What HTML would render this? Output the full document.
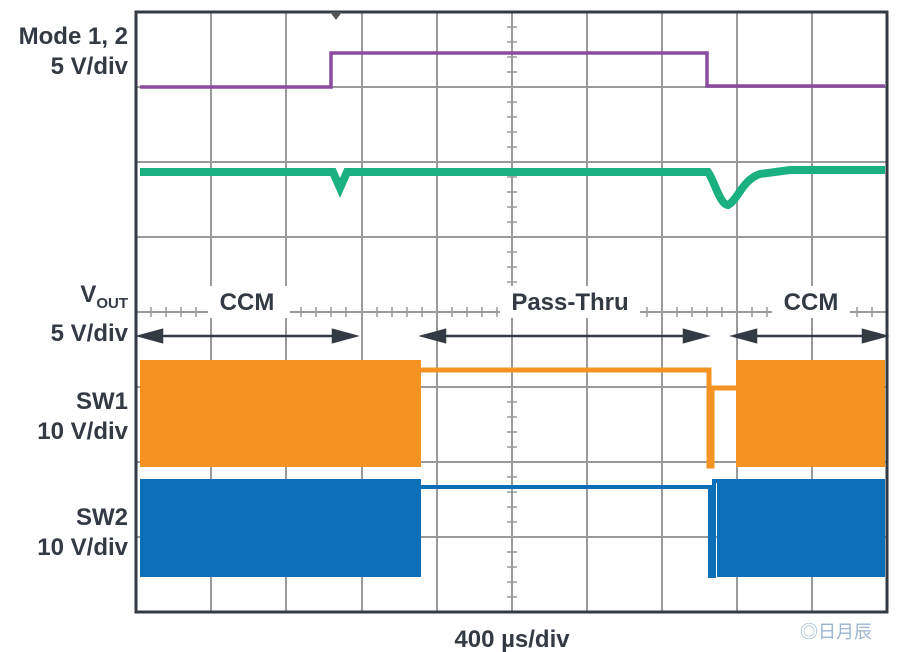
<!DOCTYPE html>
<html><head><style>
body{margin:0;background:#fff;width:901px;height:652px;overflow:hidden}
.l{position:absolute;font-family:"Liberation Sans",sans-serif;font-weight:bold;font-size:24px;color:#333a44;text-align:right;right:773px;line-height:30px}
</style></head><body>
<div style="position:relative;width:901px;height:652px">
<svg width="901" height="652" style="position:absolute;left:0;top:0">
<g stroke="#9a9a9a" stroke-width="2">
<line x1="211" y1="12" x2="211" y2="612"/><line x1="286" y1="12" x2="286" y2="612"/><line x1="362" y1="12" x2="362" y2="612"/><line x1="437" y1="12" x2="437" y2="612"/><line x1="512" y1="12" x2="512" y2="612"/><line x1="587" y1="12" x2="587" y2="612"/><line x1="662" y1="12" x2="662" y2="612"/><line x1="737" y1="12" x2="737" y2="612"/><line x1="812" y1="12" x2="812" y2="612"/>
<line x1="136" y1="87" x2="887" y2="87"/><line x1="136" y1="162" x2="887" y2="162"/><line x1="136" y1="237" x2="887" y2="237"/><line x1="136" y1="312" x2="887" y2="312"/><line x1="136" y1="387" x2="887" y2="387"/><line x1="136" y1="462" x2="887" y2="462"/><line x1="136" y1="537" x2="887" y2="537"/>
</g>
<g stroke="#9a9a9a" stroke-width="1.5">
<path d="M151 307v10M166 307v10M181 307v10M196 307v10M226 307v10M241 307v10M256 307v10M271 307v10M301 307v10M316 307v10M331 307v10M346 307v10M377 307v10M392 307v10M407 307v10M422 307v10M452 307v10M467 307v10M482 307v10M497 307v10M527 307v10M542 307v10M557 307v10M572 307v10M602 307v10M617 307v10M632 307v10M647 307v10M677 307v10M692 307v10M707 307v10M722 307v10M752 307v10M767 307v10M782 307v10M797 307v10M827 307v10M842 307v10M857 307v10M872 307v10"/>
<path d="M507 27h10M507 42h10M507 57h10M507 72h10M507 102h10M507 117h10M507 132h10M507 147h10M507 177h10M507 192h10M507 207h10M507 222h10M507 252h10M507 267h10M507 282h10M507 297h10M507 402h10M507 417h10M507 432h10M507 447h10M507 477h10M507 492h10M507 507h10M507 522h10M507 552h10M507 567h10M507 582h10M507 597h10"/>
</g>
<rect x="208" y="286" width="82" height="32" fill="#fff"/>
<rect x="500" y="286" width="140" height="32" fill="#fff"/>
<rect x="772" y="286" width="78" height="32" fill="#fff"/>
<rect x="136" y="12" width="751" height="600" fill="none" stroke="#333a44" stroke-width="3"/>
<path d="M330 12l6 8 6-8z" fill="#555"/>
<path d="M140 87H331V53H707V86H885" fill="none" stroke="#8b4b9f" stroke-width="3.5"/>
<path d="M140 172H333L340 188L347 172H708C714 180 720 205 728 205C738 200 742 180 760 174L790 170H885" fill="none" stroke="#1bb07f" stroke-width="8"/>
<rect x="140" y="360" width="281" height="107" fill="#f59322"/>
<rect x="736" y="360" width="149" height="107" fill="#f59322"/>
<path d="M421 370H709V466H712V388H736" fill="none" stroke="#f59322" stroke-width="5"/>
<rect x="140" y="479" width="281" height="98" fill="#0d6fb8"/>
<rect x="717" y="479" width="168" height="98" fill="#0d6fb8"/>
<path d="M421 487H710V576H714V481H717" fill="none" stroke="#0d6fb8" stroke-width="4"/>
<g stroke="#333a44" stroke-width="2.5" fill="#333a44">
<line x1="150" y1="336" x2="345" y2="336"/><path d="M140 336l22-6v12z M355 336l-22-6v12z"/>
<line x1="433" y1="336" x2="696" y2="336"/><path d="M423 336l22-6v12z M706 336l-22-6v12z"/>
<line x1="744" y1="336" x2="875" y2="336"/><path d="M734 336l22-6v12z M885 336l-22-6v12z"/>
</g>
<g font-family="Liberation Sans,sans-serif" font-weight="bold" font-size="24" fill="#333a44" text-anchor="middle">
<text x="247" y="310">CCM</text><text x="570" y="310">Pass-Thru</text><text x="811" y="310">CCM</text>
<text x="512" y="647">400 µs/div</text>
</g>
<text x="800" y="638" font-family="Liberation Sans,sans-serif" font-size="18" fill="#9bb5d0">◎日月辰</text>
</svg>
<div class="l" style="top:22px">Mode 1, 2<br>5 V/div</div>
<div class="l" style="top:280px">V<sub style="font-size:15px">OUT</sub><br>5 V/div</div>
<div class="l" style="top:387px">SW1<br>10 V/div</div>
<div class="l" style="top:503px">SW2<br>10 V/div</div>
</div>
</body></html>
